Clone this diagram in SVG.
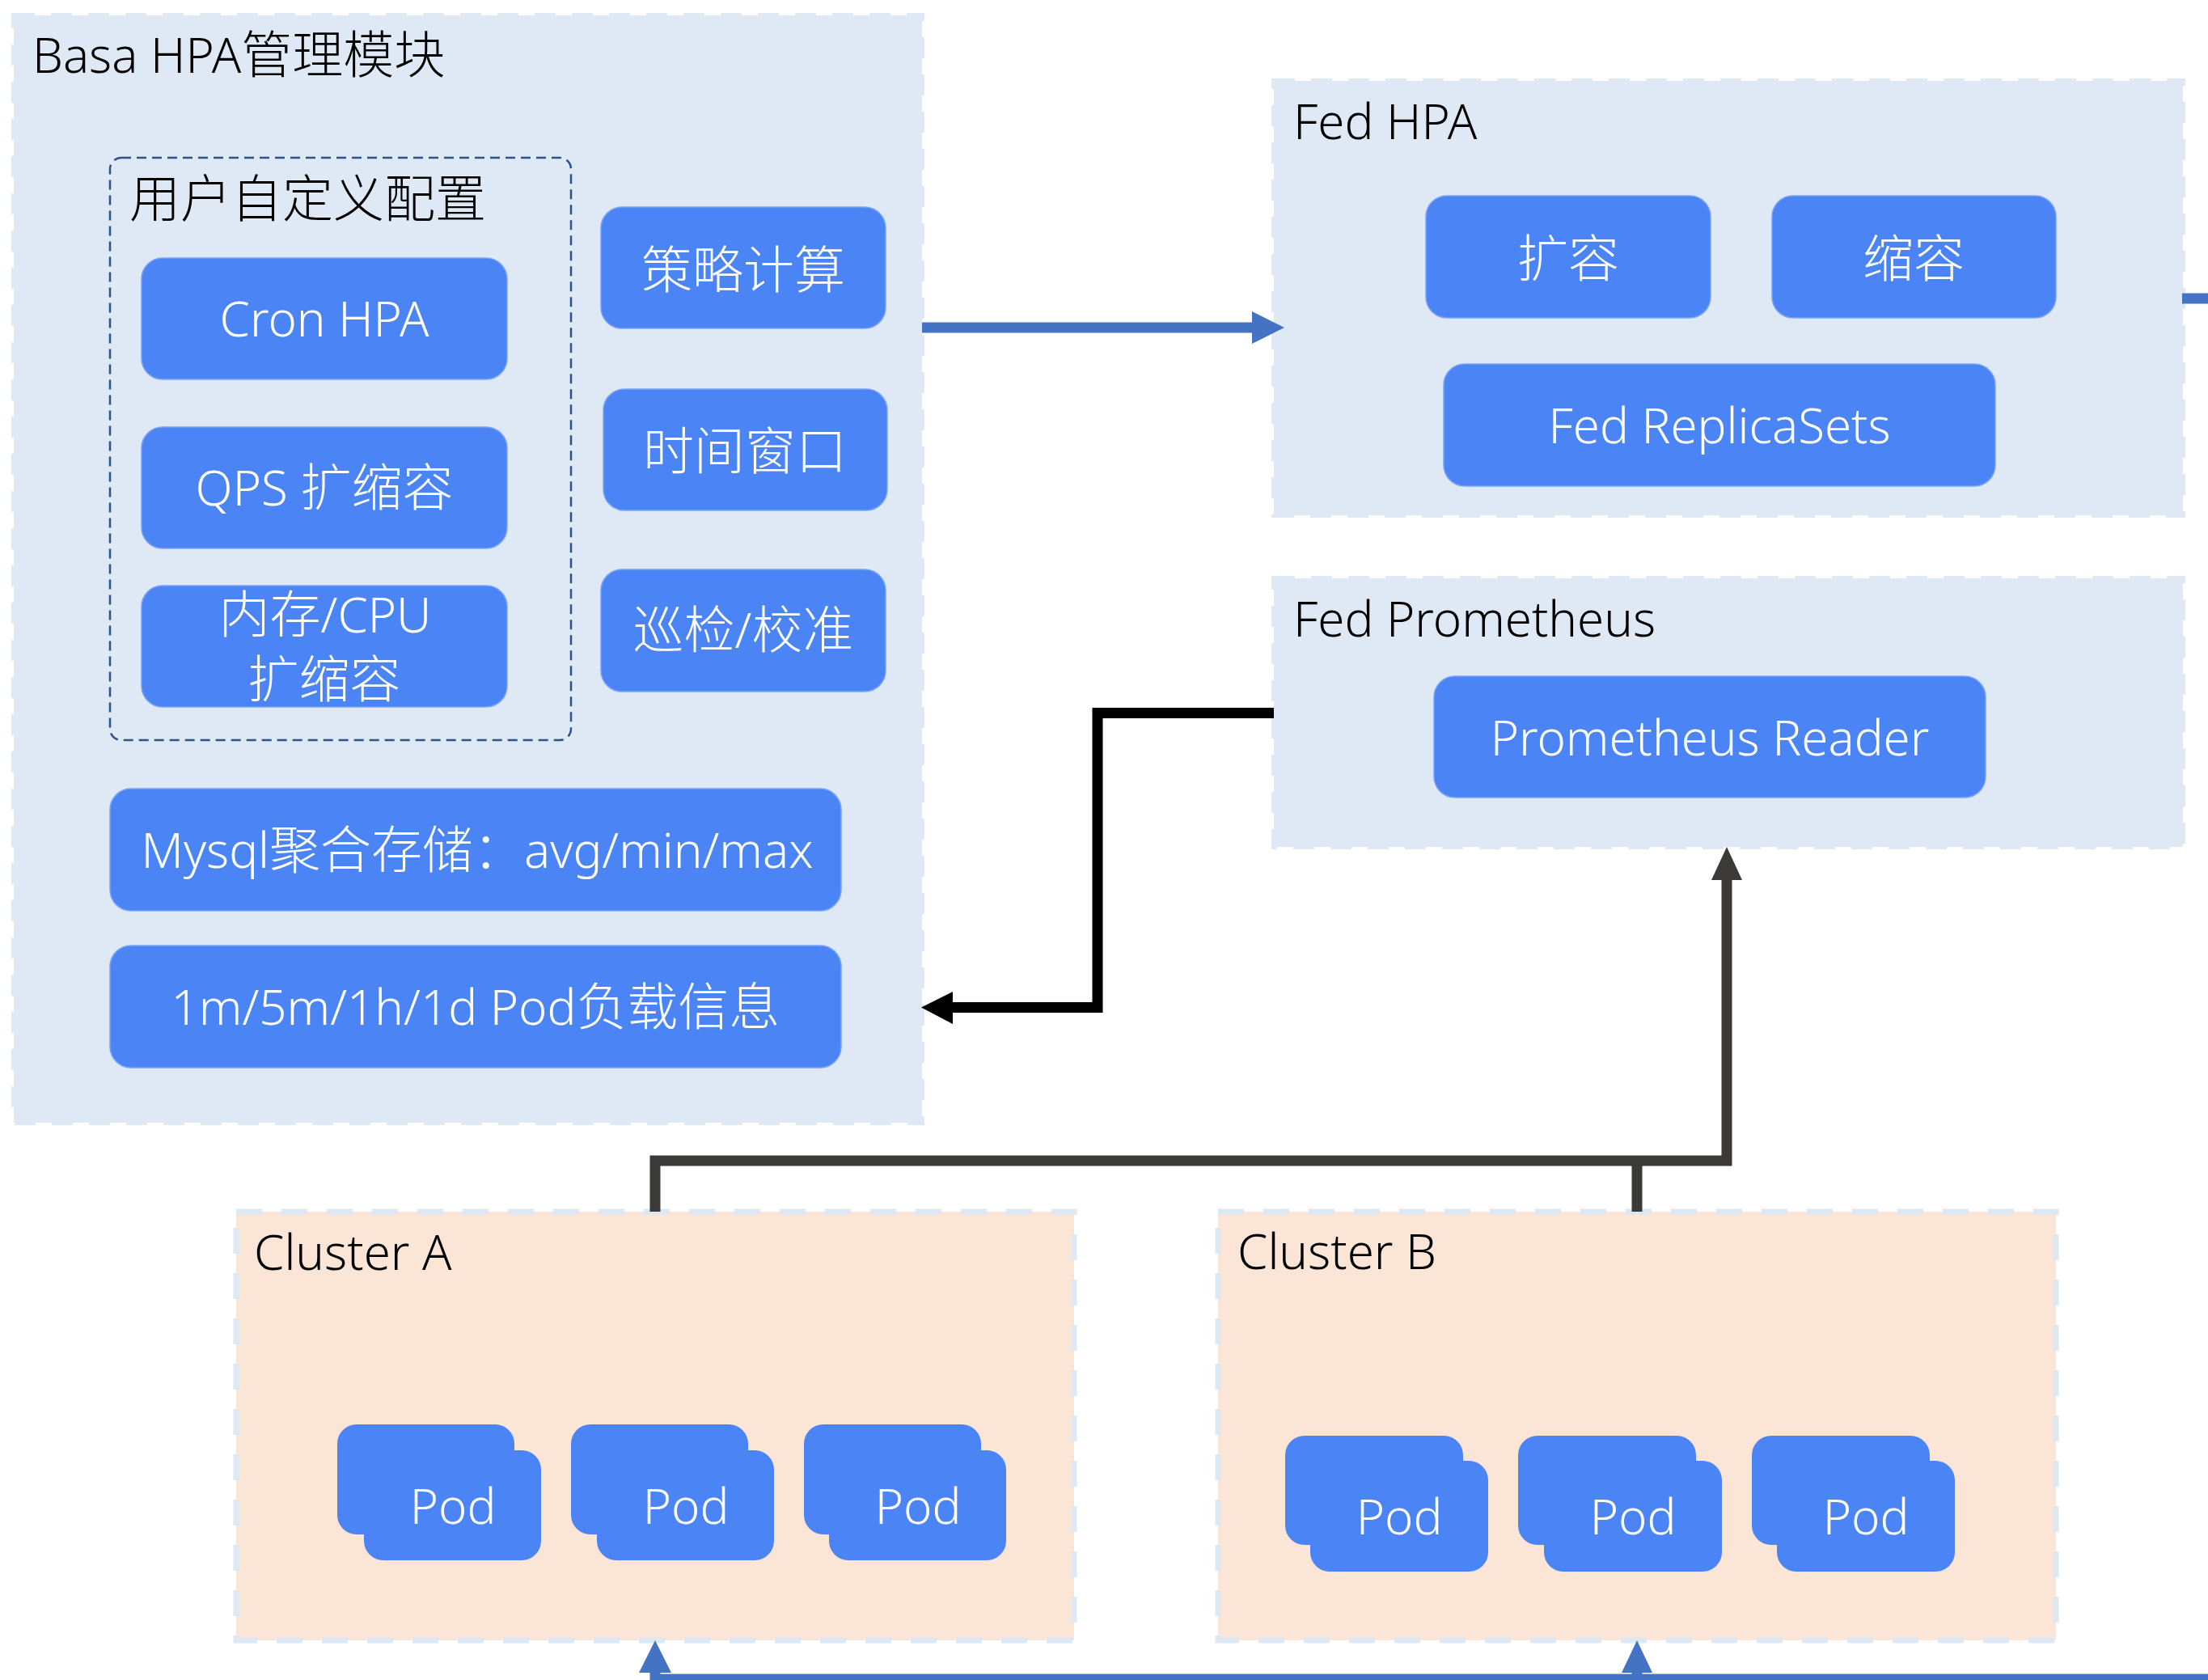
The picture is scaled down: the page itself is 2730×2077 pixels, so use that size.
<svg xmlns="http://www.w3.org/2000/svg" width="2730" height="2077" viewBox="0 0 2730 2077">
  <style>
    text { font-family: "Noto Sans", "Noto Sans CJK SC", sans-serif; font-size: 60px; font-weight: 300; }
    .cjk { font-size: 63px; }
    .title { fill: #000000; }
    .lbl { fill: #ffffff; text-anchor: middle; }
    .panel { fill: #dee9f5; stroke: #dee9f5; stroke-width: 6; stroke-dasharray: 26 20; }
    .cluster { fill: #fae5d7; stroke: #dde8f5; stroke-width: 7; stroke-dasharray: 32 24; }
    .box { fill: #4b84f4; stroke: #7aa3f6; stroke-width: 1.5; }
    .pod { fill: #4b84f4; }
    .group { fill: none; stroke: #2f528f; stroke-width: 2.5; stroke-dasharray: 12 7; }
    .blue { fill: none; stroke: #4472c4; stroke-width: 13; }
    .dark { fill: none; stroke: #3b3a38; stroke-width: 13; }
    .black { fill: none; stroke: #000000; stroke-width: 13; }
  </style>

  <!-- Basa HPA management module -->
  <g id="basa-hpa">
    <rect class="panel" x="17" y="19" width="1123" height="1369"/>
    <text class="title" x="40" y="90">Basa HPA<tspan class="cjk">管理模块</tspan></text>

    <g id="user-config">
      <rect class="group" x="136" y="195" width="570" height="720" rx="14"/>
      <text class="title cjk" x="160" y="268">用户自定义配置</text>
    </g>
    <g id="cron-hpa">
      <rect class="box" x="175" y="319" width="452" height="150" rx="26"/>
      <text class="lbl" x="401" y="416">Cron HPA</text>
    </g>
    <g id="qps-scaling">
      <rect class="box" x="175" y="528" width="452" height="150" rx="26"/>
      <text class="lbl" x="401" y="625">QPS <tspan class="cjk">扩缩容</tspan></text>
    </g>
    <g id="mem-cpu-scaling">
      <rect class="box" x="175" y="724" width="452" height="150" rx="26"/>
      <text class="lbl" x="402" y="782"><tspan class="cjk">内存</tspan>/CPU</text>
      <text class="lbl cjk" x="401" y="862">扩缩容</text>
    </g>
    <g id="policy-calc">
      <rect class="box" x="743" y="256" width="352" height="150" rx="26"/>
      <text class="lbl cjk" x="919" y="356">策略计算</text>
    </g>
    <g id="time-window">
      <rect class="box" x="746" y="481" width="351" height="150" rx="26"/>
      <text class="lbl cjk" x="921" y="580">时间窗口</text>
    </g>
    <g id="inspect-calibrate">
      <rect class="box" x="743" y="704" width="352" height="151" rx="26"/>
      <text class="lbl" x="919" y="801"><tspan class="cjk">巡检</tspan>/<tspan class="cjk">校准</tspan></text>
    </g>
    <g id="mysql-store">
      <rect class="box" x="136" y="975" width="904" height="151" rx="26"/>
      <text class="lbl" x="590" y="1073">Mysql<tspan class="cjk">聚合存储：</tspan>avg/min/max</text>
    </g>
    <g id="pod-load">
      <rect class="box" x="136" y="1169" width="904" height="151" rx="26"/>
      <text class="lbl" x="588" y="1267">1m/5m/1h/1d Pod<tspan class="cjk">负载信息</tspan></text>
    </g>
  </g>

  <!-- Fed HPA -->
  <g id="fed-hpa">
    <rect class="panel" x="1575" y="100" width="1124" height="537"/>
    <text class="title" x="1599" y="172">Fed HPA</text>
    <g id="scale-out">
      <rect class="box" x="1763" y="242" width="352" height="151" rx="26"/>
      <text class="lbl cjk" x="1939" y="342">扩容</text>
    </g>
    <g id="scale-in">
      <rect class="box" x="2191" y="242" width="351" height="151" rx="26"/>
      <text class="lbl cjk" x="2366" y="342">缩容</text>
    </g>
    <g id="fed-replicasets">
      <rect class="box" x="1785" y="450" width="682" height="151" rx="26"/>
      <text class="lbl" x="2126" y="548">Fed ReplicaSets</text>
    </g>
  </g>

  <!-- Fed Prometheus -->
  <g id="fed-prometheus">
    <rect class="panel" x="1575" y="715" width="1124" height="332"/>
    <text class="title" x="1599" y="787">Fed Prometheus</text>
    <g id="prometheus-reader">
      <rect class="box" x="1773" y="836" width="682" height="150" rx="26"/>
      <text class="lbl" x="2114" y="934">Prometheus Reader</text>
    </g>
  </g>

  <!-- Cluster A -->
  <g id="cluster-a">
    <rect class="cluster" x="292" y="1498" width="1036" height="530"/>
    <text class="title" x="314" y="1570">Cluster A</text>
    <g id="cluster-a-pod-1">
      <rect class="pod" x="417" y="1761" width="219" height="136" rx="24"/>
      <rect class="pod" x="450" y="1793" width="219" height="136" rx="24"/>
      <text class="lbl" x="560" y="1884">Pod</text>
    </g>
    <g id="cluster-a-pod-2">
      <rect class="pod" x="706" y="1761" width="219" height="136" rx="24"/>
      <rect class="pod" x="738" y="1793" width="219" height="136" rx="24"/>
      <text class="lbl" x="848" y="1884">Pod</text>
    </g>
    <g id="cluster-a-pod-3">
      <rect class="pod" x="994" y="1761" width="219" height="136" rx="24"/>
      <rect class="pod" x="1025" y="1793" width="219" height="136" rx="24"/>
      <text class="lbl" x="1135" y="1884">Pod</text>
    </g>
  </g>

  <!-- Cluster B -->
  <g id="cluster-b">
    <rect class="cluster" x="1506" y="1498" width="1036" height="530"/>
    <text class="title" x="1530" y="1569">Cluster B</text>
    <g id="cluster-b-pod-1">
      <rect class="pod" x="1589" y="1775" width="220" height="135" rx="24"/>
      <rect class="pod" x="1620" y="1806" width="220" height="137" rx="24"/>
      <text class="lbl" x="1730" y="1897">Pod</text>
    </g>
    <g id="cluster-b-pod-2">
      <rect class="pod" x="1877" y="1775" width="220" height="135" rx="24"/>
      <rect class="pod" x="1909" y="1806" width="220" height="137" rx="24"/>
      <text class="lbl" x="2019" y="1897">Pod</text>
    </g>
    <g id="cluster-b-pod-3">
      <rect class="pod" x="2166" y="1775" width="220" height="135" rx="24"/>
      <rect class="pod" x="2197" y="1806" width="220" height="137" rx="24"/>
      <text class="lbl" x="2307" y="1897">Pod</text>
    </g>
  </g>

  <!-- Connectors -->
  <g id="connectors">
    <!-- Basa HPA to Fed HPA -->
    <path class="blue" d="M1140 405 H1552"/>
    <polygon fill="#4472c4" points="1588,405 1548,385 1548,425"/>

    <!-- Fed HPA out to the clusters -->
    <path class="blue" d="M2698 369 H2745 V2076 H810 V2064"/>
    <path class="blue" d="M2024 2076 V2064"/>
    <polygon fill="#4472c4" points="810,2028 790,2068 830,2068"/>
    <polygon fill="#4472c4" points="2024,2028 2005,2068 2043,2068"/>

    <!-- Clusters to Fed Prometheus -->
    <path class="dark" d="M810 1498 V1435 H2135 V1084"/>
    <path class="dark" d="M2024 1498 V1435"/>
    <polygon fill="#3b3a38" points="2135,1047 2116,1088 2154,1088"/>

    <!-- Fed Prometheus to Basa HPA -->
    <path class="black" d="M1575 881.5 H1357 V1245.5 H1174"/>
    <polygon fill="#000000" points="1139,1245.5 1178,1226 1178,1266"/>
  </g>
</svg>
